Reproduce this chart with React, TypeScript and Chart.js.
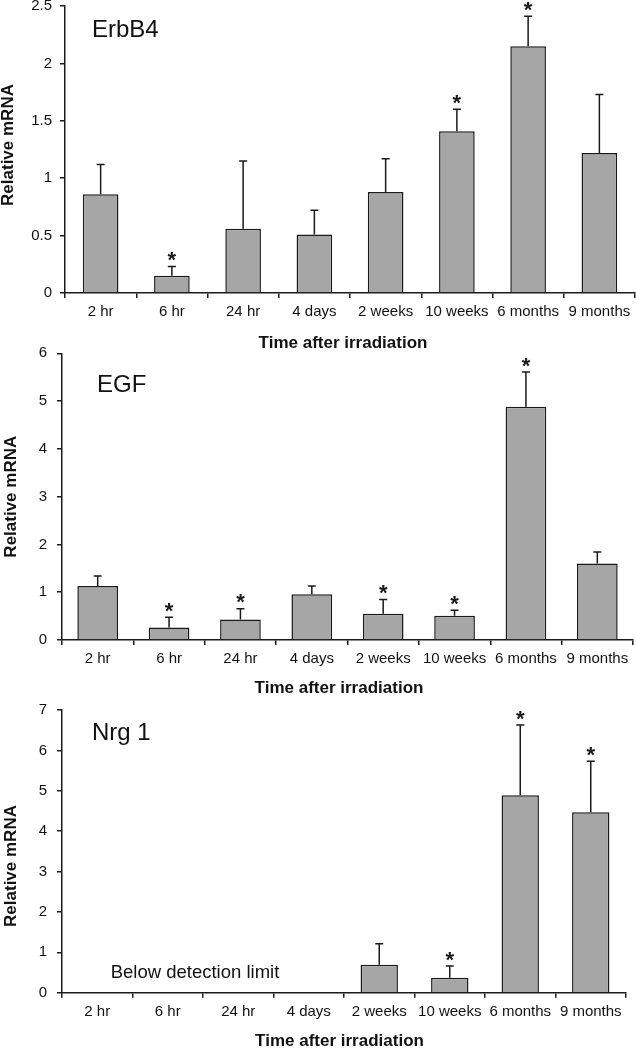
import React, { useEffect, useRef } from 'react';
import { Chart, registerables } from 'chart.js';

Chart.register(...registerables);

// ---------- data ----------
const CATEGORIES = ['2 hr', '6 hr', '24 hr', '4 days', '2 weeks', '10 weeks', '6 months', '9 months'];

const ERBB4_MEAN = [0.86, 0.15, 0.56, 0.51, 0.88, 1.41, 2.15, 1.22];
const ERBB4_ERR = [0.26, 0.08, 0.59, 0.21, 0.29, 0.19, 0.26, 0.51];
const ERBB4_SIG = [false, true, false, false, false, true, true, false];
const ERBB4_Y_TICKS = [0, 0.5, 1, 1.5, 2, 2.5];

const EGF_MEAN = [1.13, 0.26, 0.43, 0.96, 0.55, 0.51, 4.88, 1.6];
const EGF_ERR = [0.21, 0.215, 0.225, 0.17, 0.3, 0.11, 0.73, 0.24];
const EGF_SIG = [false, true, true, false, true, true, true, false];
const EGF_Y_TICKS = [0, 1, 2, 3, 4, 5, 6];

const NRG1_MEAN: (number | null)[] = [null, null, null, null, 0.69, 0.37, 4.89, 4.47];
const NRG1_ERR: (number | null)[] = [null, null, null, null, 0.52, 0.29, 1.74, 1.26];
const NRG1_SIG = [false, false, false, false, false, true, true, true];
const NRG1_Y_TICKS = [0, 1, 2, 3, 4, 5, 6, 7];

const Y_TITLE = 'Relative mRNA';
const X_TITLE = 'Time after irradiation';
const NOTE_NRG1 = 'Below detection limit';

// ---------- styling ----------
const FONT = '"Liberation Sans", Arial, Helvetica, sans-serif';
const INK = '#1a1a1a';
const BAR_FILL = '#a6a6a6';
const STAR_SIZE = 22;

type TextItem = {
  text: string;
  x: number;
  y: number;
  size: number;
  bold?: boolean;
  rotate?: boolean;
  align?: CanvasTextAlign;
};

type PanelSpec = {
  name: string;
  mean: (number | null)[];
  err: (number | null)[];
  sig: boolean[];
  yTicks: number[];
  top: number;
  height: number;
  area: { left: number; right: number; top: number; bottom: number };
  barPct: number;
  yTickPad: number;
  texts: TextItem[];
};

const PANELS: PanelSpec[] = [
  {
    name: 'ErbB4',
    mean: ERBB4_MEAN,
    err: ERBB4_ERR,
    sig: ERBB4_SIG,
    yTicks: ERBB4_Y_TICKS,
    top: 0,
    height: 351,
    area: { left: 65, right: 635, top: 6, bottom: 293 },
    barPct: 0.5,
    yTickPad: 8,
    texts: [
      { text: 'ErbB4', x: 92, y: 30.5, size: 24, align: 'left' },
      { text: Y_TITLE, x: 8.5, y: 145, size: 17, bold: true, rotate: true },
      { text: X_TITLE, x: 343, y: 343, size: 17, bold: true },
    ],
  },
  {
    name: 'EGF',
    mean: EGF_MEAN,
    err: EGF_ERR,
    sig: EGF_SIG,
    yTicks: EGF_Y_TICKS,
    top: 345,
    height: 351,
    area: { left: 62, right: 633, top: 8.3, bottom: 295 },
    barPct: 0.57,
    yTickPad: 10,
    texts: [
      { text: 'EGF', x: 97, y: 40, size: 24, align: 'left' },
      { text: Y_TITLE, x: 11, y: 151.7, size: 17, bold: true, rotate: true },
      { text: X_TITLE, x: 339, y: 343, size: 17, bold: true },
    ],
  },
  {
    name: 'Nrg 1',
    mean: NRG1_MEAN,
    err: NRG1_ERR,
    sig: NRG1_SIG,
    yTicks: NRG1_Y_TICKS,
    top: 700,
    height: 350,
    area: { left: 62, right: 626, top: 10, bottom: 292.7 },
    barPct: 0.53,
    yTickPad: 10,
    texts: [
      { text: 'Nrg 1', x: 92, y: 33, size: 24, align: 'left' },
      { text: Y_TITLE, x: 11, y: 166, size: 17, bold: true, rotate: true },
      { text: X_TITLE, x: 339.5, y: 341.7, size: 17, bold: true },
      { text: NOTE_NRG1, x: 110.7, y: 272.7, size: 18.5, align: 'left' },
    ],
  },
];

function makeOverlay(spec: PanelSpec) {
  return {
    id: 'overlay_' + spec.name.replace(/\s/g, ''),
    afterDatasetsDraw(chart: any) {
      const ctx: CanvasRenderingContext2D = chart.ctx;
      const xs = chart.scales.x;
      const ys = chart.scales.y;
      ctx.save();
      ctx.strokeStyle = INK;
      ctx.fillStyle = INK;
      ctx.lineWidth = 1.5;
      spec.mean.forEach((m, i) => {
        const e = spec.err[i];
        if (m == null || e == null) return;
        const px = xs.getPixelForValue(i);
        const y0 = ys.getPixelForValue(m);
        const y1 = ys.getPixelForValue(m + e);
        ctx.beginPath();
        ctx.moveTo(px, y0);
        ctx.lineTo(px, y1);
        ctx.moveTo(px - 4, y1);
        ctx.lineTo(px + 4, y1);
        ctx.stroke();
        if (spec.sig[i]) {
          ctx.font = `bold ${STAR_SIZE}px ${FONT}`;
          ctx.textAlign = 'center';
          ctx.textBaseline = 'alphabetic';
          ctx.fillText('*', px, y1 - 12 + 0.575 * STAR_SIZE);
        }
      });
      // free texts
      spec.texts.forEach((t) => {
        ctx.font = `${t.bold ? 'bold ' : ''}${t.size}px ${FONT}`;
        ctx.fillStyle = '#111';
        ctx.textBaseline = 'middle';
        if (t.rotate) {
          ctx.save();
          ctx.translate(t.x, t.y);
          ctx.rotate(-Math.PI / 2);
          ctx.textAlign = 'center';
          ctx.fillText(t.text, 0, 0);
          ctx.restore();
        } else {
          ctx.textAlign = t.align || 'center';
          ctx.fillText(t.text, t.x, t.y);
        }
      });
      ctx.restore();
    },
  };
}

function Panel({ spec }: { spec: PanelSpec }) {
  const ref = useRef<HTMLCanvasElement | null>(null);
  useEffect(() => {
    if (!ref.current) return;
    const yMin = spec.yTicks[0];
    const yMax = spec.yTicks[spec.yTicks.length - 1];
    const chart = new Chart(ref.current, {
      type: 'bar',
      data: {
        labels: CATEGORIES,
        datasets: [
          {
            label: spec.name,
            data: spec.mean as any,
            backgroundColor: BAR_FILL,
            borderColor: INK,
            borderWidth: 1.5,
            categoryPercentage: 1,
            barPercentage: spec.barPct,
          },
        ],
      },
      options: {
        responsive: false,
        animation: false,
        devicePixelRatio: 1,
        layout: {
          padding: { left: 0, top: spec.area.top, right: 636 - spec.area.right, bottom: 0 },
        },
        plugins: {
          legend: { display: false },
          tooltip: { enabled: false },
          title: { display: false },
        },
        scales: {
          x: {
            type: 'category',
            offset: true,
            grid: {
              offset: true,
              drawOnChartArea: false,
              drawTicks: true,
              tickLength: 5,
              color: INK,
              lineWidth: 1.5,
            },
            border: { display: true, color: INK, width: 1.5 },
            ticks: {
              color: '#111',
              font: { family: FONT, size: 15 },
              padding: 5,
              maxRotation: 0,
              minRotation: 0,
              autoSkip: false,
            },
            afterFit: (s: any) => {
              s.height = spec.height - spec.area.bottom;
              s.paddingLeft = 0;
              s.paddingRight = 0;
            },
          },
          y: {
            type: 'linear',
            min: yMin,
            max: yMax,
            afterBuildTicks: (s: any) => {
              s.ticks = spec.yTicks.map((v) => ({ value: v }));
            },
            ticks: {
              color: '#111',
              font: { family: FONT, size: 15 },
              padding: spec.yTickPad,
              callback: (v: any) => String(v),
            },
            grid: {
              drawOnChartArea: false,
              drawTicks: true,
              tickLength: 5,
              color: INK,
              lineWidth: 1.5,
            },
            border: { display: true, color: INK, width: 1.5 },
            afterFit: (s: any) => {
              s.width = spec.area.left;
              s.paddingTop = 0;
              s.paddingBottom = 0;
            },
          },
        },
      } as any,
      plugins: [makeOverlay(spec)],
    });
    return () => chart.destroy();
  }, [spec]);

  return (
    <canvas
      ref={ref}
      width={636}
      height={spec.height}
      style={{ position: 'absolute', left: 0, top: spec.top, width: 636, height: spec.height }}
    />
  );
}

export default function App() {
  return (
    <div
      style={{
        position: 'absolute',
        left: 0,
        top: 0,
        width: 636,
        height: 1050,
        overflow: 'hidden',
        background: '#ffffff',
      }}
    >
      {PANELS.map((p) => (
        <Panel key={p.name} spec={p} />
      ))}
    </div>
  );
}
